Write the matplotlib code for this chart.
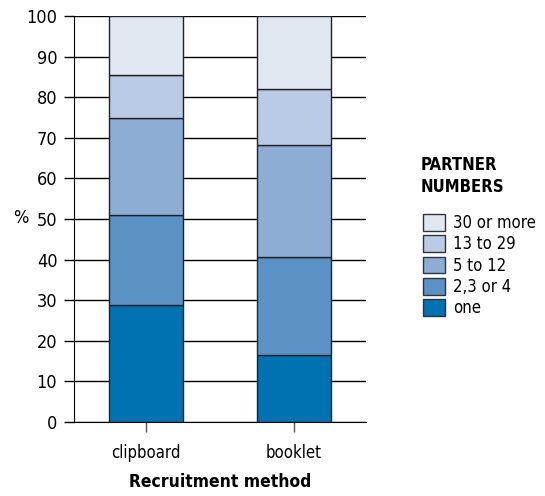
import matplotlib.pyplot as plt
from matplotlib.patches import Patch

plt.rcParams['font.family'] = ['DejaVu Sans']
plt.rcParams['font.stretch'] = 'condensed'

methods = ['clipboard', 'booklet']
categories = ['one', '2,3 or 4', '5 to 12', '13 to 29', '30 or more']
one = [28.7, 16.4]
two_to_four = [22.2, 24.2]
five_to_twelve = [24.0, 27.7]
thirteen_to_29 = [10.5, 13.7]
thirty_plus = [14.6, 18.0]
series = [one, two_to_four, five_to_twelve, thirteen_to_29, thirty_plus]
colors = ['#0072b2', '#5b92c6', '#8dadd4', '#bacbe5', '#e1e7f1']

fig = plt.figure(figsize=(5.45, 4.96), dpi=100)
ax = fig.add_axes([0.1358, 0.1492, 0.5358, 0.8185])

x = range(len(methods))
bottom = [0, 0]
for vals, c in zip(series, colors):
    ax.bar(x, vals, width=0.5, bottom=bottom, color=c, edgecolor='#222222',
           linewidth=1, zorder=3)
    bottom = [b + v for b, v in zip(bottom, vals)]

ax.set_ylim(0, 100)
ax.set_xlim(-0.49, 1.49)
ax.set_yticks(range(0, 101, 10))
ax.yaxis.grid(True, color='black', linewidth=1)
ax.set_axisbelow(True)
for s in ['top', 'right']:
    ax.spines[s].set_visible(False)
ax.set_xticks(list(x))
ax.set_xticklabels(methods, fontsize=12)
ax.tick_params(axis='y', length=7, width=1, labelsize=13, pad=5)
ax.tick_params(axis='x', length=7, width=1, color='#555555', pad=9)
ax.set_xlabel('Recruitment method', fontsize=12.5, fontweight='bold', labelpad=8)
fig.text(13 / 545, 1 - 218 / 496, '%', fontsize=13, ha='left', va='center')

# legend title drawn separately to match its spacing
fig.text(421 / 545, 1 - 176 / 496, 'PARTNER\nNUMBERS', fontsize=12,
         fontweight='bold', ha='left', va='center', linespacing=1.35)
handles = [Patch(facecolor=c, edgecolor='#333333', linewidth=1) for c in colors]
leg = fig.legend(handles[::-1], categories[::-1], loc='upper left',
                 bbox_to_anchor=(408 / 545, 1 - 199 / 496), frameon=False,
                 fontsize=12, handlelength=1.3, handleheight=1.15,
                 handletextpad=0.5, labelspacing=0.2)

fig.savefig('out.png', dpi=100)
